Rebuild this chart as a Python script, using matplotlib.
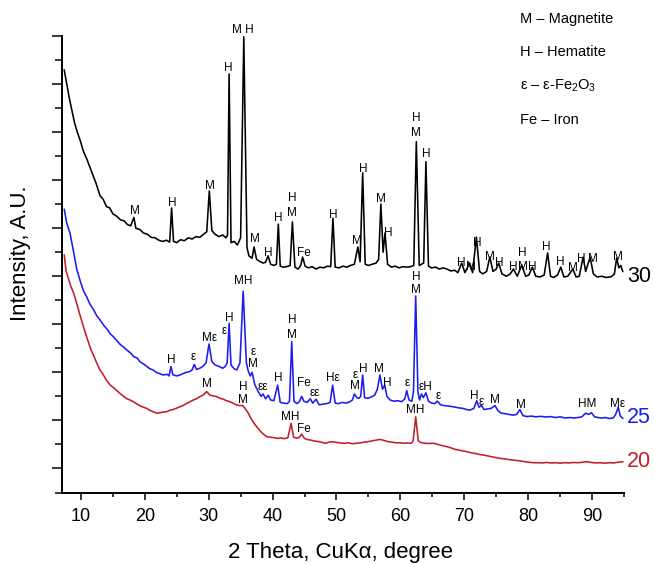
import matplotlib
matplotlib.use("Agg")
import matplotlib.pyplot as plt
from matplotlib.ticker import MultipleLocator, NullFormatter

plt.rcParams['font.family'] = ['Liberation Sans', 'DejaVu Sans']
plt.rcParams['mathtext.fontset'] = 'custom'
plt.rcParams['mathtext.rm'] = 'Liberation Sans'
plt.rcParams['mathtext.it'] = 'Liberation Sans:italic'

# sample 30 (black)
tt_30 = [7.4, 7.8, 8.2, 8.6, 9.0, 9.5, 9.9, 10.4, 10.9, 11.4, 11.9, 12.4, 13.0, 13.5, 14.0,
         14.5, 15.0, 15.6, 16.2, 16.8, 17.3, 17.8, 18.3, 18.6, 19.2, 19.8, 20.4, 21.0, 21.6,
         22.2, 22.8, 23.4, 23.9, 24.2, 24.5, 25.0, 25.6, 26.2, 26.8, 27.4, 28.0, 28.6, 29.2,
         29.7, 30.1, 30.5, 31.0, 31.6, 32.2, 32.7, 32.95, 33.2, 33.5, 34.0, 34.5, 35.0, 35.5,
         36.0, 36.3, 36.8, 37.1, 37.5, 38.0, 38.5, 38.9, 39.3, 39.7, 40.2, 40.6, 40.9, 41.2,
         41.7, 42.2, 42.75, 43.1, 43.5, 44.0, 44.4, 44.7, 45.1, 45.6, 46.2, 46.8, 47.4, 48.0,
         48.6, 49.1, 49.45, 49.8, 50.4, 51.0, 51.6, 52.2, 52.8, 53.35, 53.7, 54.1, 54.5, 55.0,
         55.6, 56.2, 56.6, 56.95, 57.3, 57.6, 58.0, 58.6, 59.2, 59.8, 60.4, 61.0, 61.6, 62.1,
         62.5, 62.95, 63.3, 63.65, 64.0, 64.4, 64.9, 65.5, 66.1, 66.7, 67.3, 67.9, 68.5, 69.0,
         69.6, 70.1, 70.85, 71.3, 71.9, 72.4, 72.9, 73.5, 74.0, 74.5, 75.0, 75.4, 75.9, 76.6,
         77.2, 77.7, 78.3, 79.0, 79.6, 80.1, 80.65, 81.2, 81.85, 82.5, 83.05, 83.5, 84.0, 84.6,
         85.1, 85.6, 86.2, 87.0, 87.5, 88.0, 88.6, 89.0, 89.7, 90.2, 90.8, 91.5, 92.2, 93.0,
         93.5, 93.85, 94.2, 94.5, 94.8]
int_30 = [17.58, 17.0, 16.4, 15.9, 15.4, 14.95, 14.65, 14.2, 13.9, 13.55, 13.2, 12.85, 12.35,
          12.2, 11.9, 11.85, 11.6, 11.5, 11.35, 11.3, 11.15, 11.1, 11.45, 11.0, 10.95, 10.8,
          10.75, 10.62, 10.6, 10.5, 10.45, 10.5, 10.42, 11.84, 10.45, 10.4, 10.52, 10.48, 10.6,
          10.55, 10.65, 10.62, 10.75, 10.85, 12.55, 10.9, 10.75, 10.65, 10.72, 10.6, 10.7, 17.42,
          10.4, 10.45, 10.3, 10.6, 18.97, 10.2, 9.85, 9.75, 10.22, 9.7, 9.62, 9.55, 9.58, 9.85,
          9.5, 9.45, 9.5, 11.17, 9.42, 9.38, 9.4, 9.45, 11.26, 9.38, 9.3, 9.45, 9.8, 9.42, 9.35,
          9.4, 9.3, 9.38, 9.35, 9.42, 9.4, 11.42, 9.38, 9.35, 9.42, 9.38, 9.45, 9.5, 10.22, 9.6,
          13.3, 9.5, 9.45, 9.5, 9.55, 9.7, 12.0, 10.0, 10.8, 9.5, 9.38, 9.42, 9.35, 9.4, 9.38,
          9.4, 9.45, 14.6, 9.45, 9.5, 9.55, 13.77, 9.42, 9.35, 9.38, 9.3, 9.35, 9.3, 9.22, 9.25,
          9.15, 9.55, 9.15, 9.55, 9.15, 10.63, 9.2, 9.1, 9.2, 9.8, 9.2, 9.3, 9.55, 9.1, 9.0, 9.1,
          9.3, 9.0, 9.47, 9.0, 9.05, 9.38, 9.0, 8.97, 9.05, 9.97, 9.0, 8.95, 9.05, 9.38, 8.97,
          9.0, 9.3, 8.97, 9.0, 9.8, 9.2, 9.8, 9.1, 8.97, 9.0, 8.95, 8.98, 9.1, 9.76, 9.35, 9.45,
          9.2]

# sample 25 (blue)
tt_25 = [7.4, 7.8, 8.3, 8.8, 9.35, 9.9, 10.4, 10.9, 11.4, 12.0, 12.5, 13.0, 13.6, 14.1, 14.6,
         15.1, 15.7, 16.2, 16.7, 17.2, 17.8, 18.3, 18.8, 19.25, 19.8, 20.3, 20.8, 21.3, 21.8,
         22.3, 22.9, 23.5, 23.8, 24.1, 24.4, 25.0, 25.5, 26.0, 26.5, 27.0, 27.4, 27.75, 28.1,
         28.6, 29.1, 29.6, 30.05, 30.5, 31.0, 31.6, 32.2, 32.6, 32.9, 33.2, 33.5, 34.0, 34.4,
         34.9, 35.4, 35.9, 36.2, 36.5, 36.8, 37.2, 37.75, 38.2, 38.5, 38.9, 39.3, 39.7, 40.2,
         40.8, 41.2, 41.7, 42.3, 42.65, 43.0, 43.35, 43.8, 44.2, 44.55, 44.9, 45.4, 45.9, 46.3,
         46.8, 47.3, 47.9, 48.5, 49.0, 49.4, 49.8, 50.3, 50.9, 51.5, 52.1, 52.5, 52.8, 53.2,
         53.5, 53.8, 54.1, 54.4, 54.9, 55.5, 56.0, 56.4, 56.8, 57.2, 57.55, 57.9, 58.4, 59.0,
         59.6, 60.2, 60.7, 61.0, 61.35, 61.8, 62.05, 62.4, 62.75, 63.0, 63.3, 63.6, 64.0, 64.4,
         64.9, 65.4, 65.8, 66.3, 66.8, 67.4, 68.0, 68.6, 69.2, 69.8, 70.4, 70.9, 71.5, 71.95,
         72.3, 72.7, 73.1, 73.6, 74.2, 74.8, 75.3, 75.8, 76.4, 77.0, 77.6, 78.2, 78.7, 79.2,
         79.8, 80.5, 81.2, 82.0, 82.8, 83.5, 84.3, 85.0, 85.8, 86.5, 87.2, 87.8, 88.4, 89.0,
         89.5, 89.9, 90.4, 90.9, 91.5, 92.1, 92.7, 93.3, 93.7, 94.1, 94.4, 94.8]
int_25 = [11.78, 11.2, 10.8, 10.1, 9.3, 8.8, 8.4, 8.15, 7.85, 7.6, 7.35, 7.18, 6.95, 6.8, 6.6,
          6.48, 6.3, 6.15, 6.05, 5.93, 5.8, 5.65, 5.6, 5.44, 5.35, 5.25, 5.15, 5.1, 5.0, 4.95,
          4.89, 4.92, 4.85, 5.24, 4.9, 4.85, 4.89, 4.95, 5.0, 5.03, 5.1, 5.33, 5.12, 5.17, 5.25,
          5.4, 6.18, 5.45, 5.31, 5.25, 5.17, 5.25, 5.4, 7.04, 5.3, 5.15, 5.1, 5.4, 8.38, 5.4,
          5.05, 4.85, 5.0, 4.5, 4.2, 4.0, 4.1, 3.9, 4.05, 3.85, 3.82, 4.47, 3.75, 3.72, 3.7,
          3.8, 6.28, 3.8, 3.7, 3.78, 4.0, 3.8, 3.75, 3.9, 3.72, 3.88, 3.65, 3.68, 3.7, 3.75,
          4.47, 3.72, 3.7, 3.75, 3.72, 3.78, 3.85, 4.1, 3.95, 3.92, 4.0, 4.89, 3.95, 3.92, 3.98,
          4.06, 4.3, 4.89, 4.3, 4.47, 4.0, 3.85, 3.8, 3.82, 3.78, 3.9, 4.24, 3.85, 3.8, 4.2,
          8.18, 4.2, 3.85, 4.1, 3.95, 4.15, 3.8, 3.72, 3.7, 3.8, 3.65, 3.62, 3.6, 3.58, 3.55,
          3.52, 3.5, 3.45, 3.43, 3.5, 3.82, 3.55, 3.62, 3.45, 3.48, 3.5, 3.62, 3.4, 3.3, 3.28,
          3.25, 3.22, 3.25, 3.45, 3.2, 3.16, 3.18, 3.15, 3.17, 3.14, 3.16, 3.12, 3.15, 3.1,
          3.12, 3.1, 3.12, 3.15, 3.3, 3.25, 3.32, 3.15, 3.12, 3.1, 3.12, 3.08, 3.1, 3.25, 3.55,
          3.2, 3.09]

# sample 20 (red)
tt_20 = [7.4, 7.7, 8.0, 8.4, 8.8, 9.35, 9.9, 10.4, 10.9, 11.5, 12.0, 12.5, 13.0, 13.5, 14.0,
         14.5, 15.0, 15.6, 16.1, 16.6, 17.2, 17.7, 18.2, 18.8, 19.3, 19.8, 20.3, 20.8, 21.4,
         21.9, 22.4, 22.9, 23.4, 23.9, 24.4, 24.9, 25.5, 26.0, 26.5, 27.1, 27.6, 28.1, 28.6,
         29.1, 29.7, 30.2, 30.7, 31.25, 31.8, 32.3, 32.8, 33.3, 33.8, 34.3, 34.8, 35.3, 35.7,
         36.2, 36.8, 37.5, 38.1, 38.6, 39.1, 39.7, 40.3, 40.8, 41.3, 41.8, 42.4, 42.9, 43.3,
         43.8, 44.2, 44.55, 45.0, 45.5, 46.0, 46.6, 47.2, 47.8, 48.3, 48.9, 49.5, 50.1, 50.7,
         51.3, 51.9, 52.5, 53.2, 53.8, 54.4, 55.0, 55.6, 56.2, 56.8, 57.4, 58.0, 58.6, 59.3,
         59.9, 60.5, 61.1, 61.7, 62.0, 62.4, 62.8, 63.2, 63.8, 64.5, 65.2, 65.9, 66.6, 67.25,
         67.9, 68.5, 69.2, 69.8, 70.4, 71.1, 71.8, 72.4, 73.0, 73.7, 74.4, 75.0, 75.6, 76.3,
         77.0, 77.6, 78.2, 78.9, 79.5, 80.2, 80.8, 81.5, 82.2, 82.9, 83.6, 84.3, 85.0, 85.7,
         86.4, 87.1, 87.8, 88.5, 89.2, 89.9, 90.6, 91.3, 92.0, 92.7, 93.4, 94.1, 94.8]
int_20 = [9.88, 9.2, 8.95, 8.6, 8.35, 7.87, 7.35, 6.9, 6.48, 6.0, 5.7, 5.38, 5.1, 4.9, 4.68,
          4.5, 4.38, 4.25, 4.13, 4.02, 3.9, 3.85, 3.78, 3.68, 3.6, 3.55, 3.5, 3.42, 3.35, 3.3,
          3.32, 3.35, 3.36, 3.42, 3.45, 3.5, 3.57, 3.62, 3.7, 3.78, 3.85, 3.9, 3.99, 4.05, 4.2,
          4.05, 4.02, 3.99, 3.92, 3.88, 3.82, 3.78, 3.72, 3.65, 3.62, 3.62, 3.5, 3.3, 3.0,
          2.74, 2.55, 2.42, 2.32, 2.3, 2.28, 2.25, 2.27, 2.24, 2.28, 2.88, 2.3, 2.26, 2.3,
          2.43, 2.25, 2.2, 2.18, 2.14, 2.12, 2.08, 2.05, 2.1, 2.11, 2.08, 2.06, 2.05, 2.07,
          2.03, 2.05, 2.07, 2.1, 2.12, 2.15, 2.18, 2.21, 2.17, 2.12, 2.1, 2.07, 2.07, 2.05,
          2.06, 2.05, 2.15, 3.15, 2.15, 2.08, 2.05, 2.04, 2.05, 2.0, 1.95, 1.91, 1.86, 1.8,
          1.76, 1.73, 1.7, 1.65, 1.62, 1.58, 1.56, 1.52, 1.48, 1.45, 1.42, 1.4, 1.37, 1.35,
          1.33, 1.31, 1.28, 1.26, 1.24, 1.24, 1.23, 1.25, 1.23, 1.24, 1.22, 1.24, 1.23, 1.25,
          1.24, 1.26, 1.28, 1.25, 1.23, 1.24, 1.22, 1.24, 1.23, 1.26, 1.28]

# peak labels: (text, 2theta, intensity)
labels_30 = [('M', 18.5, 11.71), ('H', 24.3, 12.05), ('M', 30.2, 12.75), ('H', 33.0, 17.66),
             ('M H', 35.3, 19.25), ('M', 37.25, 10.55), ('H', 39.3, 9.97), ('H', 40.85, 11.42),
             ('H', 43.05, 12.26), ('M', 43.05, 11.63), ('Fe', 44.9, 9.97), ('H', 49.45, 11.55),
             ('M', 53.2, 10.47), ('H', 54.15, 13.46), ('M', 57.0, 12.21), ('H', 58.05, 10.8),
             ('H', 62.45, 15.58), ('M', 62.45, 14.96), ('H', 64.0, 14.09), ('H', 69.5, 9.55),
             ('M', 71.05, 9.38), ('H', 72.1, 10.38), ('M', 74.0, 9.8), ('H', 75.55, 9.55),
             ('H', 77.6, 9.38), ('M', 79.15, 9.38), ('H', 79.0, 9.97), ('H', 80.7, 9.38),
             ('H', 82.9, 10.22), ('H', 85.1, 9.59), ('M', 86.95, 9.34), ('H', 88.35, 9.72),
             ('M', 90.1, 9.72), ('M', 94.0, 9.8)]
labels_25 = [('H', 24.1, 5.51), ('ε', 27.55, 5.64), ('Mε', 30.1, 6.43), ('ε', 32.4, 6.72),
             ('H', 33.2, 7.26), ('MH', 35.4, 8.8), ('ε', 37.0, 5.85), ('M', 37.0, 5.35),
             ('εε', 38.5, 4.39), ('H', 40.85, 4.76), ('H', 43.05, 7.18), ('M', 43.05, 6.55),
             ('Fe', 44.9, 4.56), ('εε', 46.65, 4.14), ('Hε', 49.45, 4.76), ('ε', 52.9, 4.89),
             ('M', 52.9, 4.43), ('H', 54.15, 5.14), ('M', 56.65, 5.14), ('H', 57.9, 4.56),
             ('ε', 61.05, 4.56), ('H', 62.45, 8.97), ('M', 62.45, 8.43), ('εH', 63.9, 4.39),
             ('ε', 66.0, 4.02), ('H', 71.5, 4.02), ('ε', 72.7, 3.77), ('M', 74.8, 3.85),
             ('M', 78.9, 3.64), ('HM', 89.2, 3.68), ('Mε', 94.0, 3.68)]
labels_20 = [('M', 29.75, 4.52), ('H', 35.4, 4.39), ('M', 35.4, 3.85), ('MH', 42.7, 3.14),
             ('Fe', 44.9, 2.64), ('MH', 62.3, 3.43)]

legend_lines = ['M – Magnetite', 'H – Hematite', 'ε – ε-Fe$_2$O$_3$', 'Fe – Iron']

samples = ['30', '25', '20']
sample_label_y = [8.97, 3.14, 1.27]
colors = ['black', '#1c1cf0', '#c0202a']

fig = plt.figure(figsize=(6.54, 5.64), dpi=100)
ax = fig.add_axes([61.7 / 654, 71.5 / 564, 562.3 / 654, 456.5 / 564])

for tt, inten, c in zip([tt_30, tt_25, tt_20], [int_30, int_25, int_20], colors):
    ax.plot(tt, inten, color=c, lw=1.15)

for labs in [labels_30, labels_25, labels_20]:
    for txt, x, y in labs:
        ax.text(x, y, txt, fontsize=8.5, ha='center', va='center', clip_on=False)

for name, c, y in zip(samples, colors, sample_label_y):
    ax.text(95.5, y, name, color=c, fontsize=15.5, ha='left', va='center', clip_on=False)

for i, line in enumerate(legend_lines):
    fig.text(520 / 654, 1 - (19 + 33.5 * i) / 564, line, fontsize=10.5, ha='left', va='center')

ax.set_xlim(7, 95)
ax.set_ylim(0, 19)
ax.xaxis.set_major_locator(MultipleLocator(10))
ax.xaxis.set_minor_locator(MultipleLocator(5))
ax.yaxis.set_major_locator(MultipleLocator(2, offset=1))
ax.yaxis.set_minor_locator(MultipleLocator(1))
ax.yaxis.set_major_formatter(NullFormatter())
ax.spines['top'].set_visible(False)
ax.spines['right'].set_visible(False)
for s in ['left', 'bottom']:
    ax.spines[s].set_linewidth(1.4)
ax.tick_params(axis='x', which='major', direction='out', length=5, width=1.1, labelsize=13, pad=6)
ax.tick_params(axis='x', which='minor', direction='out', length=3, width=1.1)
ax.tick_params(axis='y', which='major', direction='out', length=7, width=1.1)
ax.tick_params(axis='y', which='minor', direction='out', length=5, width=1.1)

ax.set_xlabel('2 Theta, CuKα, degree', fontsize=16)
ax.set_ylabel('Intensity, A.U.', fontsize=16)
ax.xaxis.set_label_coords(0.495, -0.108)
ax.yaxis.set_label_coords(-0.055, 0.525)
ax.xaxis.label.set_va('top')

fig.savefig('out.png', dpi=100)
